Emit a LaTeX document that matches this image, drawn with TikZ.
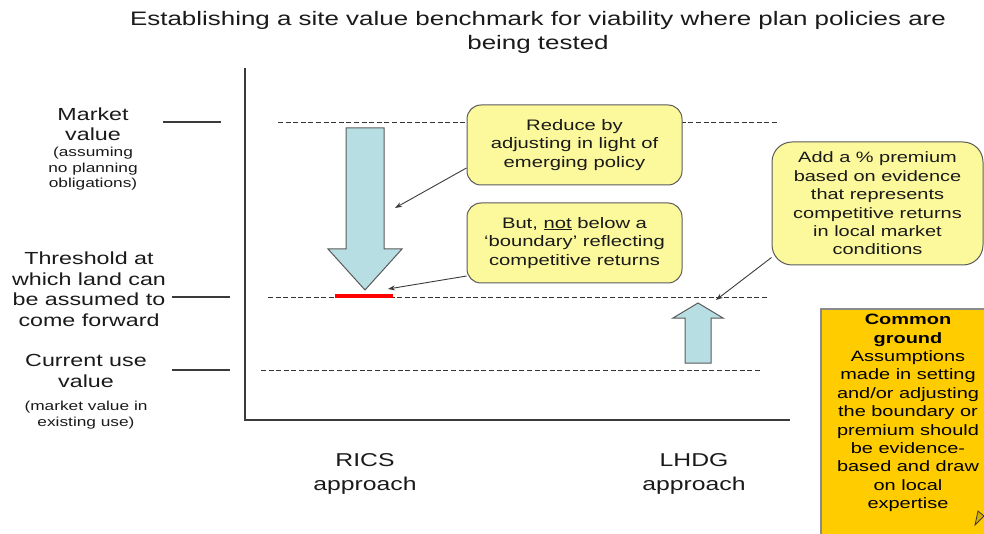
\documentclass[tikz,border=0pt]{standalone}
\usepackage{fontspec}
\setmainfont{Liberation Sans}[FakeStretch=1.33]
\usetikzlibrary{arrows.meta}
\definecolor{inkc}{HTML}{1A1A1A}
\definecolor{axisc}{HTML}{3A3A3A}
\definecolor{edgec}{HTML}{5A5A5A}
\definecolor{arrowfill}{HTML}{B7DEE2}
\definecolor{callyellow}{HTML}{FCF99C}
\definecolor{goldc}{HTML}{FFCC00}
\definecolor{goldedge}{HTML}{8A8A8A}
\tikzset{
  lblbig/.style={align=center, inner sep=0pt, text=inkc, font=\fontsize{17.5}{20.5}\selectfont},
  lblsmall/.style={align=center, inner sep=0pt, text=inkc, font=\fontsize{13}{15.5}\selectfont},
  tickline/.style={draw=axisc, line width=1.2pt},
  levelline/.style={draw=black!80, line width=0.8pt, dash pattern=on 5pt off 2.6pt},
  callout/.style={draw=edgec, fill=callyellow, line width=1pt, align=center, inner sep=0pt, text=inkc,
    font=\fontsize{15.2}{18.8}\selectfont},
  pointer/.style={draw=axisc, line width=0.9pt, -{Stealth[length=7pt,width=5pt]}},
  blockarrow/.style={draw=edgec, fill=arrowfill, line width=1pt, line join=miter},
}
\begin{document}
\begin{tikzpicture}[x=1pt,y=-1pt]
\useasboundingbox (0,0) rectangle (984,534);

% title
\node[align=center, inner sep=0pt, text=inkc, font=\fontsize{19.5}{24}\selectfont] (title) at (538,32)
  {Establishing a site value benchmark for viability where plan policies are\\being tested};

% axes
\coordinate (origin) at (245,420);
\coordinate (ytop) at (245,68);
\coordinate (xend) at (790,420);
\draw[draw=axisc, line width=1.5pt] (ytop) -- (origin) -- (xend);

% left labels
\node[lblbig] (mv) at (93,124) {Market\\value};
\node[lblsmall] (mvsub) at (93,169) {(assuming\\no planning\\obligations)};
\node[lblbig] (thr) at (89,289) {Threshold at\\which land can\\be assumed to\\come forward};
\node[lblbig] (cuv) at (86,371) {Current use\\value};
\node[lblsmall] (cuvsub) at (86,415) {(market value in\\existing use)};

% ticks
\coordinate (t1a) at (163,122); \coordinate (t1b) at (221,122);
\coordinate (t2a) at (172,297); \coordinate (t2b) at (230,297);
\coordinate (t3a) at (172,370); \coordinate (t3b) at (230,370);
\draw[tickline] (t1a) -- (t1b);
\draw[tickline] (t2a) -- (t2b);
\draw[tickline] (t3a) -- (t3b);

% level lines
\coordinate (l1a) at (278,122); \coordinate (l1b) at (778,122);
\coordinate (l2a) at (268,297); \coordinate (l2b) at (768,297);
\coordinate (l3a) at (261,370); \coordinate (l3b) at (762,370);
\draw[levelline] (l1a) -- (l1b);
\draw[levelline] (l2a) -- (l2b);
\draw[levelline] (l3a) -- (l3b);

% RICS down arrow
\draw[blockarrow] (346,128) -- (384,128) -- (384,249) -- (402,249) -- (365,290) -- (328,249) -- (346,249) -- cycle;

% red boundary
\coordinate (ra) at (335,296); \coordinate (rb) at (393,296);
\draw[red, line width=4.5pt] (ra) -- (rb);

% LHDG up arrow
\draw[blockarrow] (685,363) -- (711,363) -- (711,318) -- (723,318) -- (698,303) -- (673,318) -- (685,318) -- cycle;

% callouts
\node[callout, rounded corners=14pt, minimum width=215pt, minimum height=80pt] (box1) at (574.5,145)
  {Reduce by\\adjusting in light of\\emerging policy};
\node[callout, rounded corners=14pt, minimum width=215pt, minimum height=80pt] (box2) at (574.5,243)
  {But, \underline{not} below a\\`boundary' reflecting\\competitive returns};
\node[callout, rounded corners=20pt, minimum width=211pt, minimum height=123pt,
  font=\fontsize{15}{18.4}\selectfont] (box3) at (877.5,203.5)
  {Add a \% premium\\based on evidence\\that represents\\competitive returns\\in local market\\conditions};

% pointers
\coordinate (a1) at (395,208);
\coordinate (a2) at (388,289);
\coordinate (a3) at (716,300);
\draw[pointer] (box1.192) -- (a1);
\draw[pointer] (box2.197) -- (a2);
\draw[pointer] (box3.207) -- (a3);

% bottom labels
\node[lblbig, font=\fontsize{18.6}{24}\selectfont] (rics) at (365,474) {RICS\\approach};
\node[lblbig, font=\fontsize{18.6}{24}\selectfont] (lhdg) at (694,474) {LHDG\\approach};

% common ground box
\begin{scope}
\clip (0,0) rectangle (984,534);
\draw[draw=goldedge, fill=goldc, line width=1.5pt] (821,309) rectangle (1000,545);
\draw[draw=axisc, fill=goldc!85!black, line width=0.8pt] (978,511) -- (984,516) -- (975,525) -- cycle;
\end{scope}
\node[align=center, inner sep=0pt, text=black, font=\fontsize{15}{18.4}\selectfont] (cg) at (908,413)
  {\textbf{Common}\\\textbf{ground}\\Assumptions\\made in setting\\and/or adjusting\\the boundary or\\premium should\\be evidence-\\based and draw\\on local\\expertise};
\end{tikzpicture}
\end{document}
